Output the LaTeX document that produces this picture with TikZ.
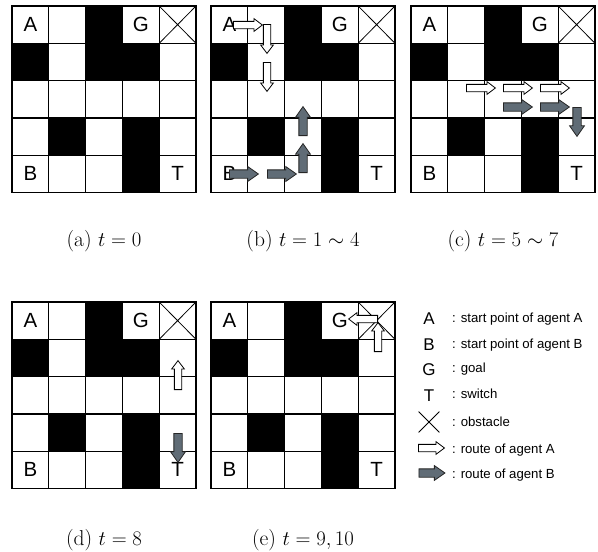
\documentclass[tikz,border=0pt]{standalone}
\usepackage{fontspec}
\newfontfamily\helv{Liberation Sans}
\usetikzlibrary{shapes.arrows, shapes.misc}

\definecolor{routeB}{RGB}{96,108,118}
\newcommand*\cellw{36.8}
\newcommand*\cellh{37.3}

\begin{document}
\begin{tikzpicture}[
  x=1pt, y=-1pt,
  grid line/.style={line width=1.2pt, line cap=rect},
  blocked/.style={cross out, draw, line width=0.8pt, minimum width=36.8pt,
                  minimum height=37.3pt, inner sep=0pt, outer sep=0pt},
  lbl/.style={font=\helv\fontsize{20.5}{20}\selectfont, inner sep=0pt},
  subcap/.style={font=\fontsize{21.5}{24}\selectfont},
  arrA/.style={single arrow, draw=black, fill=white, line width=0.8pt,
               inner sep=3.25pt, single arrow head extend=2.75pt,
               single arrow tip angle=74, minimum height=29pt, anchor=tail},
  arrB/.style={arrA, draw=black!85, fill=routeB, inner sep=3.75pt,
               single arrow head extend=3.25pt, single arrow tip angle=70},
  key/.style={font=\helv\fontsize{17}{17}\selectfont, anchor=base, inner sep=0pt},
  keytext/.style={font=\helv\fontsize{13.2}{15}\selectfont, anchor=base west,
                  inner sep=0pt}
]
\useasboundingbox (0,0) rectangle (598,552);

% the five boards
\foreach \b/\ox/\oy in {a/12/6, b/211/6, c/411/6, d/12/302, e/211/302} {
  \begin{scope}[shift={(\ox,\oy)}]
    \foreach \c/\r in {3/1, 1/2, 3/2, 4/2, 2/4, 4/4, 4/5}
      \fill ({(\c-1)*\cellw},{(\r-1)*\cellh}) rectangle ++(\cellw,\cellh);
    \foreach \i in {0,...,5} {
      \draw[grid line] ({\i*\cellw},0) -- ({\i*\cellw},{5*\cellh});
      \draw[grid line] (0,{\i*\cellh}) -- ({5*\cellw},{\i*\cellh});
    }
    \node[blocked] (\b-X) at ({4.5*\cellw},{0.5*\cellh}) {};
    \node[lbl] (\b-A) at ({0.5*\cellw},{0.5*\cellh}) {A};
    \node[lbl] (\b-G) at ({3.5*\cellw},{0.5*\cellh}) {G};
    \node[lbl] (\b-B) at ({0.5*\cellw},{4.5*\cellh}) {B};
    \node[lbl] (\b-T) at ({4.5*\cellw},{4.5*\cellh}) {T};
  \end{scope}
}

% routes, board b
\node[arrA] (b-a1) at (233,25) {};
\node[arrA, rotate=-90] (b-a2) at (267,24) {};
\node[arrA, rotate=-90] (b-a3) at (267,62) {};
\node[arrB] (b-b1) at (229,174) {};
\node[arrB] (b-b2) at (267,174) {};
\node[arrB, rotate=90] (b-b3) at (303,173) {};
\node[arrB, rotate=90] (b-b4) at (303,136) {};

% routes, board c
\node[arrA] (c-a1) at (466,88) {};
\node[arrA] (c-a2) at (503,88) {};
\node[arrA] (c-a3) at (540,88) {};
\node[arrB] (c-b1) at (503,107) {};
\node[arrB] (c-b2) at (540,107) {};
\node[arrB, rotate=-90] (c-b3) at (577,107) {};

% routes, boards d and e
\node[arrA, rotate=90] (d-a1) at (178,390) {};
\node[arrB, rotate=-90] (d-b1) at (178,433) {};
\node[arrA, rotate=90] (e-a1) at (378,352) {};
\node[arrA, rotate=180] (e-a2) at (378,319) {};

% captions
\node[subcap] (cap-a) at (104,241) {(a) $t=0$};
\node[subcap] (cap-b) at (303,241) {(b) $t=1\sim4$};
\node[subcap] (cap-c) at (503,241) {(c) $t=5\sim7$};
\node[subcap] (cap-d) at (104,540) {(d) $t=8$};
\node[subcap] (cap-e) at (303,540) {(e) $t=9,10$};

% legend
\node[key] (k-A) at (429,324.5) {A};
\node[keytext] (t-A) at (452,322.5) {: start point of agent A};
\node[key] (k-B) at (429,350.5) {B};
\node[keytext] (t-B) at (452,348.5) {: start point of agent B};
\node[key] (k-G) at (429,375) {G};
\node[keytext] (t-G) at (452,372.5) {: goal};
\node[key] (k-T) at (429,401) {T};
\node[keytext] (t-T) at (452,398.5) {: switch};
\node[cross out, draw, line width=0.8pt, minimum size=20pt, inner sep=0pt] (k-X) at (429,422) {};
\node[keytext] (t-X) at (452,426.5) {: obstacle};
\node[arrA, anchor=center, minimum height=26pt] (k-RA) at (429,448) {};
\node[keytext] (t-RA) at (452,453) {: route of agent A};
\node[arrB, anchor=center, minimum height=26pt] (k-RB) at (429,473) {};
\node[keytext] (t-RB) at (452,478) {: route of agent B};
\end{tikzpicture}
\end{document}
